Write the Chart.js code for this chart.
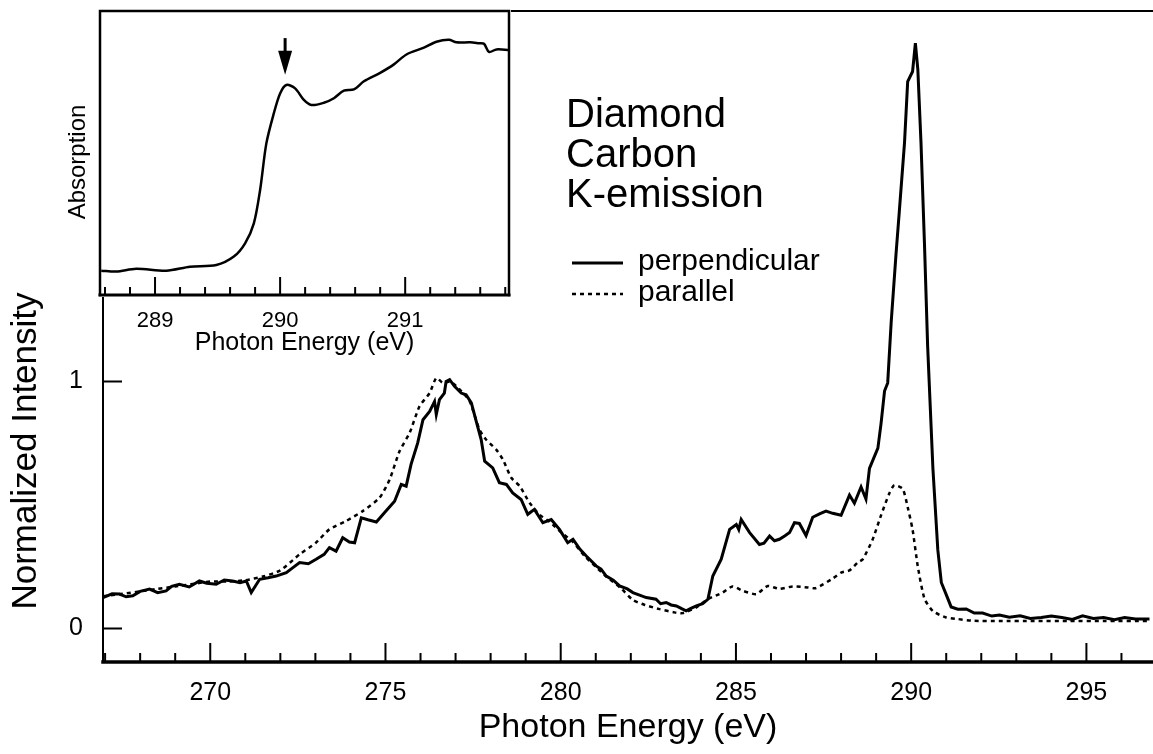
<!DOCTYPE html>
<html>
<head>
<meta charset="utf-8">
<title>Diamond Carbon K-emission</title>
<script src="https://cdn.jsdelivr.net/npm/chart.js@4.4.1/dist/chart.umd.min.js"></script>
<style>
  html, body { margin: 0; padding: 0; background: #fff; }
  #wrap { position: relative; width: 1153px; height: 754px; }
  #mainChart, #insetChart { position: absolute; left: 0; top: 0; }
</style>
</head>
<body>
<div id="wrap">
  <canvas id="mainChart" width="1153" height="754"></canvas>
  <canvas id="insetChart" width="515" height="360"></canvas>
</div>
<script>
// perpendicular (solid) emission spectrum
const perpEnergy = [266.94, 267.2, 267.41, 267.6, 267.79, 268.0, 268.27, 268.5, 268.74, 268.9, 269.12, 269.4, 269.69, 269.9, 270.17, 270.4, 270.64, 270.85, 271.03, 271.17, 271.41, 271.65, 271.88, 272.17, 272.35, 272.55, 272.8, 273.02, 273.25, 273.4, 273.59, 273.78, 273.97, 274.12, 274.31, 274.5, 274.74, 274.97, 275.26, 275.45, 275.59, 275.73, 275.92, 276.07, 276.26, 276.4, 276.45, 276.54, 276.68, 276.73, 276.83, 276.97, 277.16, 277.3, 277.45, 277.59, 277.73, 277.83, 278.06, 278.25, 278.45, 278.63, 278.87, 279.06, 279.25, 279.49, 279.73, 279.97, 280.2, 280.35, 280.55, 280.73, 281.01, 281.15, 281.3, 281.5, 281.68, 281.9, 282.06, 282.25, 282.44, 282.72, 282.85, 283.01, 283.15, 283.3, 283.45, 283.58, 283.7, 283.87, 284.05, 284.2, 284.34, 284.58, 284.82, 285.01, 285.08, 285.15, 285.39, 285.67, 285.8, 285.96, 286.1, 286.24, 286.4, 286.53, 286.67, 286.81, 287.0, 287.19, 287.4, 287.57, 287.76, 288.0, 288.24, 288.38, 288.57, 288.71, 288.81, 289.05, 289.14, 289.24, 289.33, 289.43, 289.57, 289.66, 289.81, 289.9, 290.04, 290.12, 290.19, 290.28, 290.38, 290.47, 290.62, 290.76, 290.86, 291.0, 291.14, 291.33, 291.57, 291.8, 292.04, 292.3, 292.52, 292.8, 293.11, 293.4, 293.71, 294.0, 294.3, 294.6, 294.89, 295.2, 295.49, 295.8, 296.09, 296.4, 296.8];
const perpIntensity = [0.125, 0.14, 0.139, 0.128, 0.132, 0.15, 0.159, 0.145, 0.152, 0.17, 0.179, 0.168, 0.192, 0.183, 0.179, 0.196, 0.192, 0.185, 0.192, 0.145, 0.199, 0.205, 0.212, 0.226, 0.245, 0.267, 0.262, 0.28, 0.3, 0.327, 0.313, 0.367, 0.35, 0.347, 0.448, 0.44, 0.431, 0.468, 0.515, 0.583, 0.576, 0.664, 0.751, 0.845, 0.879, 0.919, 0.866, 0.926, 0.953, 1.0, 1.007, 0.98, 0.953, 0.946, 0.913, 0.838, 0.765, 0.677, 0.65, 0.59, 0.583, 0.549, 0.522, 0.462, 0.482, 0.428, 0.441, 0.4, 0.347, 0.361, 0.32, 0.293, 0.253, 0.24, 0.212, 0.195, 0.172, 0.16, 0.145, 0.135, 0.125, 0.118, 0.1, 0.105, 0.095, 0.091, 0.08, 0.071, 0.08, 0.091, 0.1, 0.118, 0.212, 0.28, 0.401, 0.421, 0.4, 0.441, 0.388, 0.34, 0.345, 0.374, 0.355, 0.361, 0.375, 0.388, 0.428, 0.425, 0.376, 0.45, 0.465, 0.475, 0.466, 0.458, 0.54, 0.507, 0.573, 0.524, 0.648, 0.73, 0.829, 0.961, 0.994, 1.241, 1.521, 1.686, 1.967, 2.214, 2.255, 2.37, 2.263, 1.967, 1.554, 1.142, 0.648, 0.318, 0.186, 0.137, 0.087, 0.078, 0.079, 0.062, 0.062, 0.05, 0.054, 0.045, 0.051, 0.04, 0.044, 0.05, 0.044, 0.036, 0.051, 0.04, 0.044, 0.035, 0.044, 0.038, 0.038];

// parallel (dotted) emission spectrum
const paraEnergy = [266.94, 267.5, 268.0, 268.5, 269.0, 269.5, 270.0, 270.5, 271.0, 271.5, 272.0, 272.55, 273.0, 273.4, 273.88, 274.35, 274.83, 275.12, 275.4, 275.69, 275.97, 276.26, 276.45, 276.64, 276.85, 277.1, 277.4, 277.68, 277.87, 278.16, 278.35, 278.59, 278.83, 279.11, 279.4, 279.7, 280.0, 280.35, 280.7, 281.0, 281.3, 281.7, 282.06, 282.4, 282.82, 283.24, 283.48, 283.87, 284.19, 284.62, 284.9, 285.2, 285.58, 285.91, 286.24, 286.62, 287.05, 287.28, 287.76, 288.0, 288.24, 288.48, 288.62, 288.9, 289.14, 289.38, 289.52, 289.76, 289.9, 290.04, 290.19, 290.38, 290.62, 290.98, 291.33, 291.76, 292.52, 293.5, 294.5, 295.5, 296.8];
const paraIntensity = [0.13, 0.14, 0.15, 0.16, 0.17, 0.18, 0.19, 0.19, 0.195, 0.21, 0.235, 0.3, 0.345, 0.401, 0.435, 0.475, 0.529, 0.603, 0.717, 0.792, 0.899, 0.953, 1.014, 0.994, 1.0, 0.97, 0.92, 0.805, 0.765, 0.724, 0.684, 0.61, 0.576, 0.509, 0.46, 0.43, 0.39, 0.35, 0.29, 0.25, 0.21, 0.165, 0.115, 0.095, 0.078, 0.065, 0.062, 0.085, 0.118, 0.145, 0.17, 0.152, 0.139, 0.172, 0.16, 0.17, 0.166, 0.163, 0.202, 0.226, 0.235, 0.267, 0.28, 0.36, 0.458, 0.548, 0.58, 0.565, 0.491, 0.4, 0.25, 0.12, 0.07, 0.045, 0.038, 0.031, 0.03, 0.03, 0.03, 0.03, 0.03];

// inset: absorption edge
const absEnergy = [288.57, 288.69, 288.85, 289.09, 289.28, 289.49, 289.63, 289.72, 289.79, 289.84, 289.89, 289.95, 290.0, 290.05, 290.12, 290.19, 290.25, 290.35, 290.43, 290.51, 290.59, 290.67, 290.8, 290.91, 291.01, 291.15, 291.25, 291.35, 291.41, 291.52, 291.59, 291.63, 291.67, 291.73, 291.83];
const absValue = [0.086, 0.083, 0.093, 0.086, 0.1, 0.106, 0.136, 0.183, 0.254, 0.372, 0.537, 0.644, 0.714, 0.744, 0.732, 0.691, 0.673, 0.681, 0.697, 0.724, 0.728, 0.757, 0.787, 0.817, 0.852, 0.876, 0.897, 0.904, 0.895, 0.895, 0.892, 0.89, 0.861, 0.87, 0.868];

const mainXTicks = [270, 275, 280, 285, 290, 295];
const mainYTicks = [0, 1];
const insetXTicks = [289, 290, 291];
const arrowEnergy = 290.04;
const arrowTip = 0.78;
const arrowTail = 0.91;

const FONT = "'Liberation Sans', Arial, Helvetica, sans-serif";
Chart.defaults.font.family = FONT;
Chart.defaults.color = '#000';

function toPoints(xs, ys) {
  return xs.map((x, i) => ({ x: x, y: ys[i] }));
}

function noPad(s) {
  s.paddingTop = 0;
  s.paddingBottom = 0;
}

// axes frame + inward tick marks
const frameTicks = {
  id: 'frameTicks',
  afterDatasetsDraw(chart, args, o) {
    const ctx = chart.ctx, a = chart.chartArea;
    const xs = chart.scales.x, ys = chart.scales.y;
    ctx.save();
    ctx.strokeStyle = '#000';
    ctx.lineCap = 'square';
    ctx.lineWidth = o.frameWidth;
    ctx.beginPath();
    ctx.moveTo(a.left, a.bottom);
    ctx.lineTo(a.left, a.top);
    ctx.lineTo(a.right, a.top);
    if (o.fullBox) ctx.lineTo(a.right, a.bottom);
    ctx.stroke();
    ctx.lineWidth = o.bottomWidth;
    ctx.beginPath();
    ctx.moveTo(a.left, a.bottom);
    ctx.lineTo(a.right, a.bottom);
    ctx.stroke();

    ctx.lineWidth = o.tickWidth;
    ctx.lineCap = 'butt';
    ctx.beginPath();
    const k0 = Math.ceil(xs.min / o.minorStep - 1e-9);
    const k1 = Math.floor(xs.max / o.minorStep + 1e-9);
    for (let k = k0; k <= k1; k++) {
      const v = k * o.minorStep;
      const r = v / o.majorStep;
      const major = Math.abs(r - Math.round(r)) < 1e-6;
      const px = xs.getPixelForValue(v);
      ctx.moveTo(px, a.bottom);
      ctx.lineTo(px, a.bottom - (major ? o.majorLen : o.minorLen));
    }
    (o.yTicks || []).forEach(v => {
      const py = ys.getPixelForValue(v);
      ctx.moveTo(a.left, py);
      ctx.lineTo(a.left + o.majorLen, py);
    });
    ctx.stroke();
    ctx.restore();
  }
};

// labels and legend of the main plot
const mainNotes = {
  id: 'mainNotes',
  afterDraw(chart) {
    const ctx = chart.ctx;
    const ds = chart.data.datasets;
    ctx.save();
    ctx.fillStyle = '#000';
    ctx.font = '40px ' + FONT;
    ctx.textBaseline = 'alphabetic';
    ctx.textAlign = 'left';
    ctx.fillText('Diamond', 566, 127);
    ctx.fillText('Carbon', 566, 167);
    ctx.fillText('K-emission', 566, 207);

    ctx.font = '30px ' + FONT;
    const rows = [263, 294];
    const base = [270, 301];
    ds.forEach((d, i) => {
      ctx.strokeStyle = '#000';
      ctx.lineWidth = d.borderWidth;
      ctx.setLineDash(d.borderDash || []);
      ctx.beginPath();
      ctx.moveTo(572, rows[i]);
      ctx.lineTo(623, rows[i]);
      ctx.stroke();
      ctx.setLineDash([]);
      ctx.fillText(d.label, 638, base[i]);
    });

    ctx.translate(26, 451);
    ctx.rotate(-Math.PI / 2);
    ctx.textAlign = 'center';
    ctx.textBaseline = 'middle';
    ctx.font = '35px ' + FONT;
    ctx.fillText('Normalized Intensity', 0, 0);
    ctx.restore();
  }
};

new Chart(document.getElementById('mainChart'), {
  type: 'line',
  data: {
    datasets: [{
      label: 'perpendicular',
      data: toPoints(perpEnergy, perpIntensity),
      borderColor: '#000',
      borderWidth: 3,
      pointRadius: 0,
      tension: 0
    }, {
      label: 'parallel',
      data: toPoints(paraEnergy, paraIntensity),
      borderColor: '#000',
      borderWidth: 2.5,
      borderDash: [4, 4],
      pointRadius: 0,
      tension: 0.2
    }]
  },
  options: {
    responsive: false,
    animation: false,
    layout: { padding: { top: 11, right: 0, left: 0, bottom: 0 } },
    plugins: {
      legend: { display: false },
      tooltip: { enabled: false },
      frameTicks: { frameWidth: 2, bottomWidth: 3.5, tickWidth: 2, minorStep: 1, majorStep: 5, majorLen: 19, minorLen: 9, yTicks: mainYTicks }
    },
    scales: {
      x: {
        type: 'linear',
        min: 266.94,
        max: 296.9,
        afterBuildTicks: s => { s.ticks = mainXTicks.map(v => ({ value: v })); },
        afterFit: s => { s.height = 92; },
        grid: { display: false },
        border: { display: false },
        ticks: { font: { size: 25 }, padding: 8, maxRotation: 0 },
        title: { display: true, text: 'Photon Energy (eV)', font: { size: 34 }, padding: { top: 0, bottom: 6 } }
      },
      y: {
        min: -0.136,
        max: 2.5,
        afterBuildTicks: s => { s.ticks = mainYTicks.map(v => ({ value: v })); },
        afterFit: s => { noPad(s); s.width = 103; },
        grid: { display: false },
        border: { display: false },
        ticks: { font: { size: 25 }, padding: 12 }
      }
    }
  },
  plugins: [frameTicks, mainNotes]
});

// inset: white box, arrow and axis title
const insetDecor = {
  id: 'insetDecor',
  beforeDraw(chart) {
    const ctx = chart.ctx, a = chart.chartArea;
    ctx.save();
    ctx.fillStyle = '#fff';
    ctx.fillRect(a.left - 2, 0, a.right - a.left + 4, a.bottom + 2);
    ctx.restore();
  },
  afterDraw(chart) {
    const ctx = chart.ctx;
    const px = chart.scales.x.getPixelForValue(arrowEnergy);
    const tip = chart.scales.y.getPixelForValue(arrowTip);
    const tail = chart.scales.y.getPixelForValue(arrowTail);
    ctx.save();
    ctx.strokeStyle = '#000';
    ctx.fillStyle = '#000';
    ctx.lineWidth = 3;
    ctx.beginPath();
    ctx.moveTo(px, tail);
    ctx.lineTo(px, tip - 20);
    ctx.stroke();
    ctx.beginPath();
    ctx.moveTo(px - 7, tip - 24);
    ctx.lineTo(px + 7, tip - 24);
    ctx.lineTo(px, tip);
    ctx.closePath();
    ctx.fill();

    ctx.translate(78, 162);
    ctx.rotate(-Math.PI / 2);
    ctx.textAlign = 'center';
    ctx.textBaseline = 'middle';
    ctx.font = '24px ' + FONT;
    ctx.fillText('Absorption', 0, 0);
    ctx.restore();
  }
};

new Chart(document.getElementById('insetChart'), {
  type: 'line',
  data: {
    datasets: [{
      label: 'Absorption',
      data: toPoints(absEnergy, absValue),
      borderColor: '#000',
      borderWidth: 2.5,
      pointRadius: 0,
      tension: 0.3
    }]
  },
  options: {
    responsive: false,
    animation: false,
    layout: { padding: { top: 11, right: 6, left: 0, bottom: 0 } },
    plugins: {
      legend: { display: false },
      tooltip: { enabled: false },
      frameTicks: { fullBox: true, frameWidth: 2.5, bottomWidth: 3, tickWidth: 2, minorStep: 0.2, majorStep: 1, majorLen: 18, minorLen: 8 }
    },
    scales: {
      x: {
        type: 'linear',
        min: 288.56,
        max: 291.83,
        afterBuildTicks: s => { s.ticks = insetXTicks.map(v => ({ value: v })); },
        afterFit: s => { s.height = 65; },
        grid: { display: false },
        border: { display: false },
        ticks: { font: { size: 22 }, padding: 5, maxRotation: 0 },
        title: { display: true, text: 'Photon Energy (eV)', font: { size: 25 }, padding: { top: 0, bottom: 2 } }
      },
      y: {
        min: 0,
        max: 1.006,
        afterFit: s => { noPad(s); s.width = 100; },
        grid: { display: false },
        border: { display: false },
        ticks: { display: false }
      }
    }
  },
  plugins: [frameTicks, insetDecor]
});
</script>
</body>
</html>
